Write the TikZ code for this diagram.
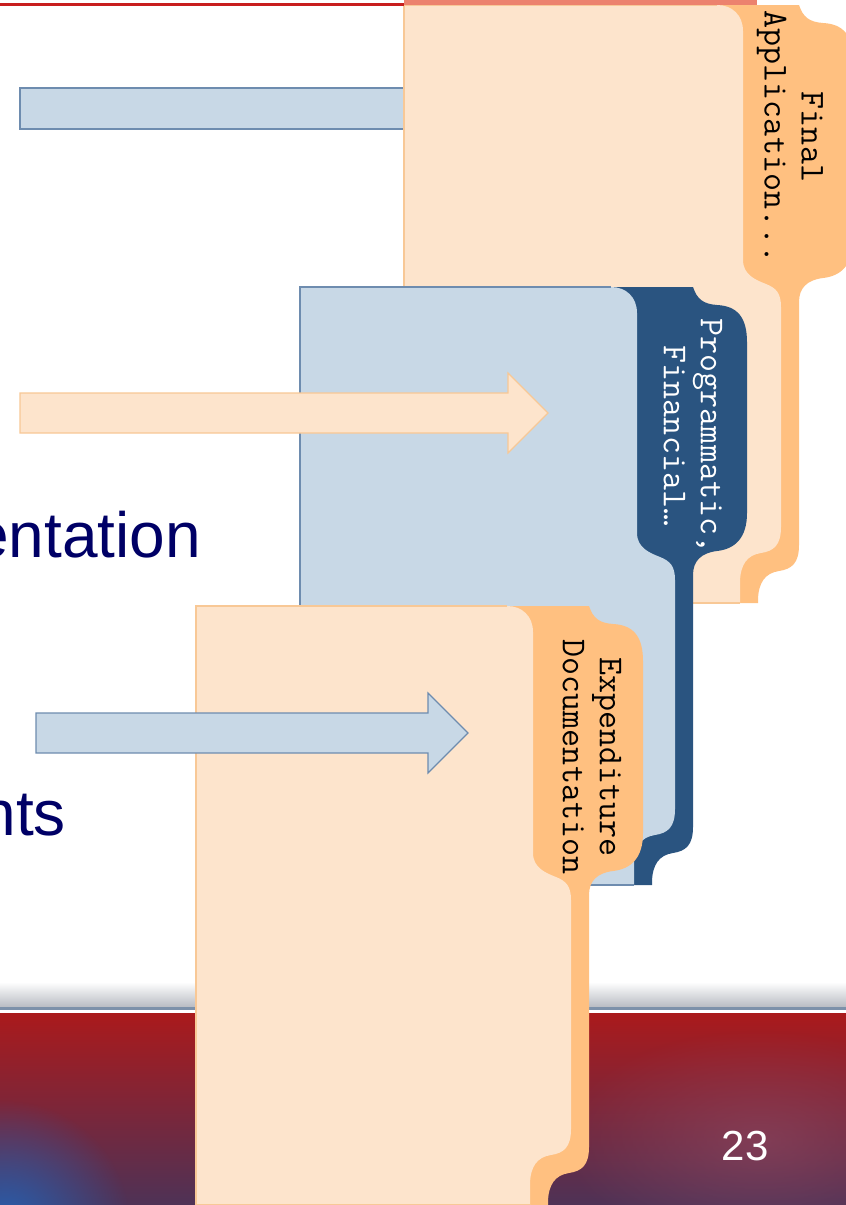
\documentclass[tikz,border=0pt]{standalone}
\usepackage{fontspec}
\newfontfamily\arialf{Liberation Sans}
\usetikzlibrary{fadings}
\tikzfading[name=glowfade, inner color=transparent!0, outer color=transparent!100]
\definecolor{peachL}{RGB}{253,228,204}
\definecolor{peachD}{RGB}{255,192,128}
\definecolor{peachB}{RGB}{248,200,150}
\definecolor{blueL}{RGB}{200,216,230}
\definecolor{blueD}{RGB}{42,84,128}
\definecolor{blueB}{RGB}{110,140,175}
\definecolor{navytext}{RGB}{0,0,102}
\definecolor{footRed}{RGB}{170,26,28}
\definecolor{footMid}{RGB}{140,38,48}
\definecolor{footLow}{RGB}{78,50,86}
\definecolor{shadowGray}{RGB}{185,188,195}
\definecolor{sepLine}{RGB}{125,145,170}
\definecolor{glowBlue}{RGB}{40,95,175}
\definecolor{glowPurple}{RGB}{150,80,105}
\definecolor{topRed}{RGB}{200,30,30}
\definecolor{topSalmon}{RGB}{236,130,110}
\newcommand\foldershape[9]{%
 \fill[#8] (#1-30,#2) -- (#1+56,#2) .. controls (#1+60,#2+12) and (#1+66,#2+17) .. (#1+80,#2+18)
   .. controls (#1+100,#2+19) and (#1+110,#2+30) .. (#1+110,#2+55) -- (#1+110,#3)
   .. controls (#1+110,#3+25) and (#1+98,#3+36) .. (#1+80,#3+38)
   .. controls (#1+64,#3+40) and (#1+56,#3+48) .. (#1+56,#3+62) -- (#1+56,#4)
   .. controls (#1+56,#4+18) and (#1+49,#4+24) .. (#1+36,#4+26)
   .. controls (#1+22,#4+28) and (#1+15,#4+38) .. (#1+15,#4+56) -- (#1+15,#5) -- (#1-30,#5) -- cycle;
 \fill[#7] (#6,#2) -- (#1-26,#2) .. controls (#1-11,#2) and (#1,#2+10) .. (#1,#2+26) -- (#1,#3+20)
   .. controls (#1,#3+35) and (#1+13,#3+40) .. (#1+23,#3+44)
   .. controls (#1+33,#3+48) and (#1+38,#3+53) .. (#1+38,#3+67) -- (#1+38,#4-18)
   .. controls (#1+38,#4) and (#1+31,#4+6) .. (#1+18,#4+8)
   .. controls (#1+4,#4+10) and (#1-3,#4+20) .. (#1-3,#4+38) -- (#1-3,#5) -- (#6,#5) -- cycle;
 \draw[#9, line width=1.2] (#1-26,#2) -- (#6,#2) -- (#6,#5) -- (#1-3,#5);
}
\tikzset{
  tabtext/.style={rotate=-90, align=center, inner sep=0pt, font=\ttfamily\fontsize{35}{37}\selectfont},
  bigtext/.style={anchor=base east, inner sep=0pt, text=navytext, font=\arialf\fontsize{64}{70}\selectfont},
  bluearrow/.style={fill=blueL, draw=blueB, line width=1.2},
  peacharrow/.style={fill=peachL, draw=peachB, line width=1.2}
}
\begin{document}
\begin{tikzpicture}[x=1pt,y=-1pt]
\useasboundingbox (0,0) rectangle (846,1205);
\clip (0,0) rectangle (846,1205);
\fill[white] (0,0) rectangle (846,1205);
% footer
\shade[top color=white, bottom color=shadowGray] (0,982) rectangle (846,1007);
\fill[sepLine] (0,1006.5) rectangle (846,1009.5);
\fill[white] (0,1009.5) rectangle (846,1013);
\shade[top color=footRed, middle color=footMid, bottom color=footLow] (0,1013) rectangle (846,1205);
\fill[glowBlue, path fading=glowfade] (5,1225) circle (125);
\fill[glowPurple, path fading=glowfade, opacity=0.5] (760,1140) ellipse (200 and 110);
\node[anchor=base, inner sep=0pt, text=white, font=\arialf\fontsize{42}{46}\selectfont] (pagenum) at (745,1160) {23};
% text lines
\node[bigtext] (t1) at (201,557) {entation};
\node[bigtext] (t2) at (66,835) {nts};
% arrow 1 (behind folder 1)
\path[bluearrow] (20,88) -- (420,88) -- (420,129) -- (20,129) -- cycle;
% folder 1
\foldershape{743}{5}{240}{545}{603}{404}{peachL}{peachD}{peachB}
\node[tabtext, text=black] (f1) at (790,137) {Final\\Application...};
% folder 2
\foldershape{637}{287}{513}{827}{885}{300}{blueL}{blueD}{blueB}
\node[tabtext, text=white] (f2) at (693,436) {Programmatic,\\Financial…};
% arrow 2
\path[peacharrow] (20,393) -- (508,393) -- (508,373) -- (548,413) -- (508,453) -- (508,433) -- (20,433) -- cycle;
% folder 3
\foldershape{533}{606}{833}{1147}{1205}{196}{peachL}{peachD}{peachB}
\node[tabtext, text=black] (f3) at (592,757) {Expenditure\\Documentation};
% arrow 3
\path[bluearrow] (36,713) -- (428,713) -- (428,693) -- (468,733) -- (428,773) -- (428,753) -- (36,753) -- cycle;
% top line
\draw[topRed, line width=2.5] (0,4.5) -- (404,4.5);
\draw[topSalmon, line width=5] (404,2.5) -- (757,2.5);
\end{tikzpicture}
\end{document}
